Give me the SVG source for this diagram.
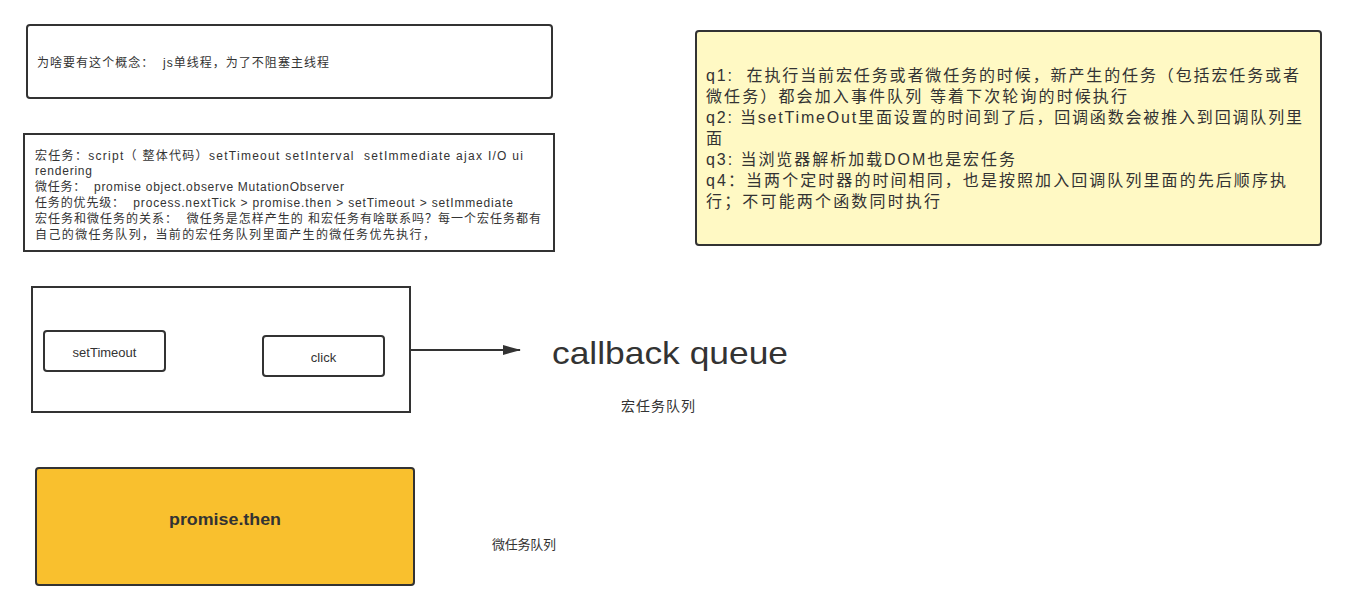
<svg xmlns="http://www.w3.org/2000/svg" width="1346" height="611" viewBox="0 0 1346 611">
<defs>
<style>
text{font-family:"Liberation Sans","Noto Sans CJK SC",sans-serif;fill:#333;white-space:pre}
.box{fill:#fff;stroke:#333;stroke-width:2}
.s12{font-size:12px}
.s16{font-size:16px}
</style>
<marker id="arr" markerWidth="18" markerHeight="12" refX="17" refY="6" orient="auto" markerUnits="userSpaceOnUse">
<path d="M0,1 L18,6 L0,11 Z" fill="#333"/>
</marker>
</defs>
<rect width="1346" height="611" fill="#fff"/>
<g id="why">
<rect class="box" x="27" y="25" width="525" height="73" rx="3"/>
<text class="s12" x="37" y="67" textLength="292">为啥要有这个概念：  js单线程，为了不阻塞主线程</text>
</g>
<g id="tasks">
<rect class="box" x="24" y="134" width="530" height="117"/>
<text class="s12" x="35" y="160" textLength="488">宏任务：script（ 整体代码）setTimeout setInterval  setImmediate ajax I/O ui</text>
<text class="s12" x="35" y="175" textLength="57">rendering</text>
<text class="s12" x="35" y="191" textLength="309">微任务：  promise object.observe MutationObserver</text>
<text class="s12" x="35" y="207" textLength="478">任务的优先级：  process.nextTick &gt; promise.then &gt; setTimeout &gt; setImmediate</text>
<text class="s12" x="35" y="223" textLength="506">宏任务和微任务的关系：  微任务是怎样产生的 和宏任务有啥联系吗？每一个宏任务都有</text>
<text class="s12" x="35" y="239" textLength="400">自己的微任务队列，当前的宏任务队列里面产生的微任务优先执行，</text>
</g>
<g id="questions">
<rect x="696" y="31" width="625" height="214" rx="3" fill="#fff9c4" stroke="#333" stroke-width="2"/>
<text class="s16" x="706" y="81" textLength="593">q1:  在执行当前宏任务或者微任务的时候，新产生的任务（包括宏任务或者</text>
<text class="s16" x="706" y="102" textLength="421">微任务）都会加入事件队列 等着下次轮询的时候执行</text>
<text class="s16" x="706" y="123" textLength="596">q2: 当setTimeOut里面设置的时间到了后，回调函数会被推入到回调队列里</text>
<text class="s16" x="706" y="144">面</text>
<text class="s16" x="706" y="165" textLength="309">q3: 当浏览器解析加载DOM也是宏任务</text>
<text class="s16" x="706" y="186" textLength="580">q4：当两个定时器的时间相同，也是按照加入回调队列里面的先后顺序执</text>
<text class="s16" x="706" y="207" textLength="234">行；不可能两个函数同时执行</text>
</g>
<g id="macro">
<rect class="box" x="32" y="287" width="378" height="125"/>
</g>
<g id="setTimeout">
<rect class="box" x="44" y="331" width="121" height="40" rx="3"/>
<text x="104.5" y="357" text-anchor="middle" style="font-size:13px">setTimeout</text>
</g>
<g id="click">
<rect class="box" x="263" y="336" width="121" height="40" rx="3"/>
<text x="323.5" y="362" text-anchor="middle" style="font-size:13px">click</text>
</g>
<g id="callback">
<text x="552" y="364" textLength="236" lengthAdjust="spacingAndGlyphs" style="font-size:32px;font-weight:500;fill:#333">callback queue</text>
</g>
<g id="macroLabel">
<text x="621" y="411" style="font-size:14px" textLength="74">宏任务队列</text>
</g>
<g id="promise">
<rect x="36" y="468" width="378" height="117" rx="3" fill="#f9c02e" stroke="#333" stroke-width="2"/>
<text x="225" y="525" text-anchor="middle" textLength="112" lengthAdjust="spacingAndGlyphs" style="font-size:17px;font-weight:bold">promise.then</text>
</g>
<g id="microLabel">
<text x="492" y="549" style="font-size:13px" textLength="64">微任务队列</text>
</g>
<g id="connectors">
<line x1="410" y1="350" x2="520" y2="350" stroke="#333" stroke-width="2" marker-end="url(#arr)"/>
</g>
</svg>
